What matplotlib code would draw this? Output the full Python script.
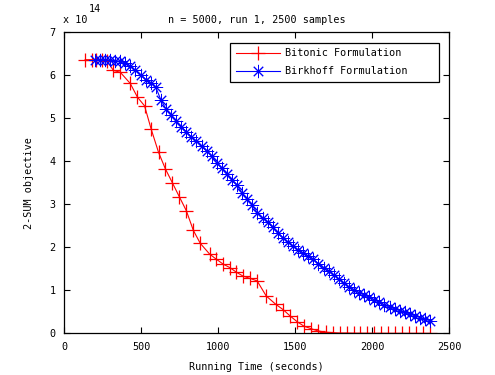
import matplotlib
matplotlib.use("Agg")
import matplotlib.pyplot as plt

# Data (objective values in units of 1e14)
bitonic_t = [137, 185, 210, 245, 280, 321, 365, 430, 477, 523, 566, 614, 658, 703,
             749, 794, 840, 885, 946, 990, 1033, 1076, 1120, 1163, 1206, 1254, 1313,
             1374, 1424, 1467, 1515, 1558, 1606, 1649, 1700, 1745, 1790, 1835, 1880,
             1925, 1970, 2015, 2060, 2105, 2150, 2195, 2240, 2285, 2330, 2375]
bitonic_v = [6.35, 6.35, 6.35, 6.34, 6.32, 6.10, 6.06, 5.80, 5.48, 5.28, 4.74, 4.20,
             3.82, 3.50, 3.17, 2.85, 2.39, 2.09, 1.84, 1.72, 1.61, 1.53, 1.42, 1.33,
             1.28, 1.22, 0.87, 0.68, 0.55, 0.41, 0.27, 0.17, 0.11, 0.06, 0.03, 0.02,
             0.01, 0.01, 0.005, 0.004, 0.003, 0.002, 0.002, 0.001, 0.001, 0.001,
             0.0005, 0.0005, 0.0003, 0.0002]

birkhoff_t = [200, 233, 266, 299, 332, 365, 398, 431, 464, 497, 530, 563, 596, 629,
              662, 695, 728, 761, 794, 827, 860, 893, 926, 959, 992, 1025, 1058, 1091,
              1124, 1157, 1190, 1223, 1256, 1289, 1322, 1355, 1388, 1421, 1454, 1487,
              1520, 1553, 1586, 1619, 1652, 1685, 1718, 1751, 1784, 1817, 1850, 1883,
              1916, 1949, 1982, 2015, 2048, 2081, 2114, 2147, 2180, 2213, 2246, 2279,
              2312, 2345, 2375]
birkhoff_v = [6.35, 6.35, 6.35, 6.34, 6.33, 6.31, 6.27, 6.20, 6.10, 6.00, 5.89, 5.81,
              5.71, 5.42, 5.21, 5.07, 4.93, 4.80, 4.68, 4.56, 4.46, 4.34, 4.23, 4.11,
              3.96, 3.83, 3.69, 3.55, 3.44, 3.25, 3.11, 2.97, 2.79, 2.68, 2.58, 2.46,
              2.33, 2.22, 2.12, 2.03, 1.94, 1.86, 1.79, 1.72, 1.62, 1.52, 1.44, 1.36,
              1.26, 1.16, 1.08, 1.01, 0.95, 0.89, 0.84, 0.78, 0.72, 0.66, 0.61, 0.57,
              0.53, 0.49, 0.45, 0.41, 0.37, 0.33, 0.30]

x_ticks = [0, 500, 1000, 1500, 2000, 2500]
y_ticks = [0, 1, 2, 3, 4, 5, 6, 7]

plt.rcParams['font.family'] = ['DejaVu Sans Mono']
fs = 7.3

fig = plt.figure(figsize=(4.95, 3.75), dpi=100)
ax = fig.add_axes([0.1293, 0.1107, 0.7778, 0.8048])

ax.plot(bitonic_t, bitonic_v, color='#ff0000', lw=0.8, marker='+', ms=10,
        mew=0.9, label='Bitonic Formulation')
ax.plot(birkhoff_t, birkhoff_v, color='#0000ff', lw=0.8, marker=(8, 2, 0), ms=9.5,
        mew=0.7, label='Birkhoff Formulation')

ax.set_xlim(0, 2500)
ax.set_ylim(0, 7)
ax.set_xticks(x_ticks)
ax.set_yticks(y_ticks)
ax.tick_params(direction='in', length=4, width=0.8, top=True, right=True,
               labelsize=fs, pad=6)
for s in ax.spines.values():
    s.set_linewidth(0.9)

ax.set_title('n = 5000, run 1, 2500 samples', fontsize=fs, pad=6)
ax.set_xlabel('Running Time (seconds)', fontsize=fs, labelpad=7)
ax.set_ylabel('2-SUM objective', fontsize=fs, labelpad=11)

# exponent label
fig.text(63/495, 1 - 20/375, 'x 10', fontsize=fs, ha='left', va='center')
fig.text(89/495, 1 - 9/375, '14', fontsize=fs, ha='left', va='center')

leg = ax.legend(loc='upper left', bbox_to_anchor=(0.431, 0.9636, 0.543, 0.0),
                mode='expand', fontsize=fs, fancybox=False, framealpha=1,
                edgecolor='black', handlelength=4.4, handletextpad=0.5,
                borderaxespad=0.0, borderpad=0.55, labelspacing=0.8)
leg.get_frame().set_linewidth(0.9)

fig.savefig('out.png', dpi=100)
